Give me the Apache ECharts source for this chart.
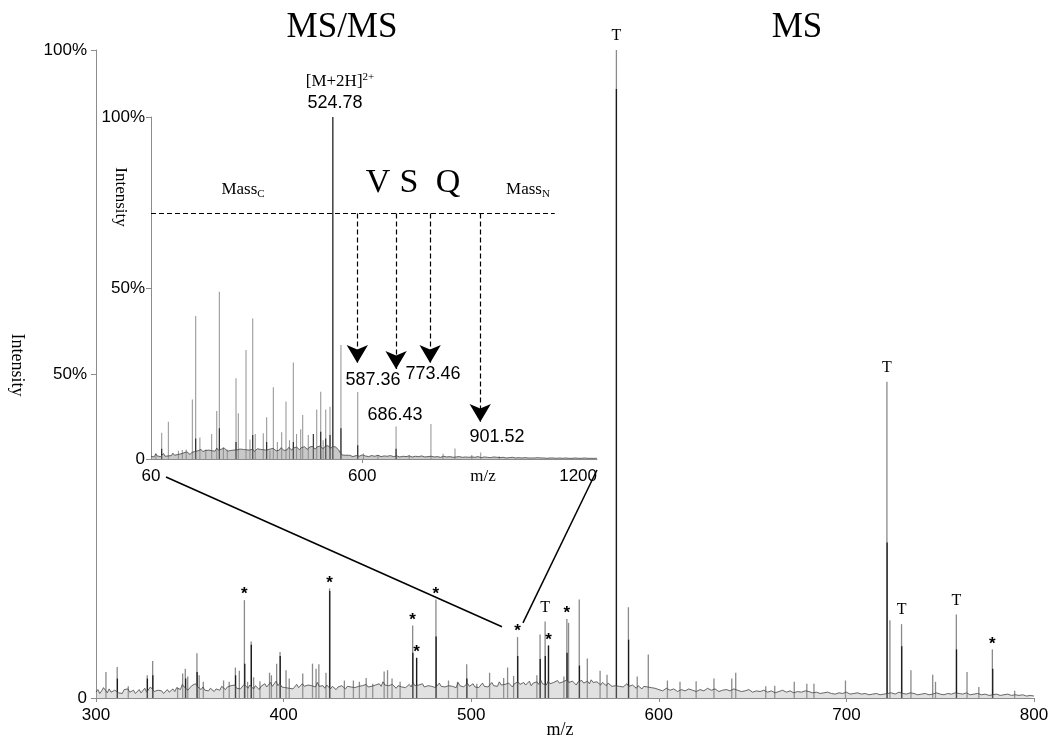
<!DOCTYPE html>
<html><head><meta charset="utf-8">
<script src="https://cdn.jsdelivr.net/npm/echarts@6/dist/echarts.min.js"></script>
<style>html,body{margin:0;padding:0;background:#fff}#c{width:1048px;height:738px}</style>
</head><body><div id="c"></div><script>
// ---------------- DATA ----------------
const mainXTicks = [300, 400, 500, 600, 700, 800];
const yTickText = {0: '0', 50: '50%', 100: '100%'};
const insetXLabels = [60, 600, 1200];
const insetXTicks = [600];

// MS spectrum: peaks [m/z, %] (gray trace)
const mainPeaks = [[305.3,4.0],[311.3,4.8],[317.2,1.8],[327.3,3.5],[330.2,5.7],[343.5,1.6],[346.2,3.8],[347.6,4.5],[348.9,3.3],[353.8,6.9],[355.0,3.5],[357.2,2.5],[368.0,2.7],[371.0,2.5],[374.3,4.7],[376.4,4.2],[379.1,15.1],[380.8,2.5],[382.7,8.7],[384.0,3.2],[387.4,2.6],[392.5,3.9],[393.5,3.5],[396.3,5.3],[398.1,7.1],[401.3,4.3],[403.0,3.0],[410.2,3.8],[415.4,5.3],[417.3,4.5],[418.8,5.2],[422.6,3.9],[424.5,16.9],[432.4,2.7],[437.2,2.7],[440.4,2.5],[444.0,3.1],[447.5,2.2],[453.6,4.1],[455.4,4.3],[457.8,3.0],[462.1,2.5],[468.8,11.2],[470.9,6.2],[481.2,15.2],[487.9,2.7],[492.7,2.5],[497.6,5.2],[503.0,2.2],[509.8,3.9],[517.3,3.1],[519.4,4.7],[522.6,3.4],[524.7,9.4],[535.0,3.5],[536.7,9.8],[539.4,11.8],[541.2,8.1],[549.4,3.3],[551.0,12.2],[551.9,11.6],[557.6,15.2],[561.9,6.1],[568.7,4.2],[572.4,3.6],[577.4,100],[583.8,14.0],[588.5,3.3],[594.4,6.7],[604.6,2.7],[611.3,2.5],[619.9,2.6],[629.4,3.0],[638.9,3.0],[641.0,3.9],[657.0,1.8],[661.8,1.9],[672.2,2.5],[678.9,2.2],[682.7,2.2],[699.5,2.7],[721.6,48.8],[723.2,12.0],[729.4,11.4],[734.4,4.3],[746.0,3.6],[747.5,2.5],[758.6,12.9],[764.3,4.0],[770.6,1.7],[777.8,7.5],[789.7,1.1]];
// MS spectrum: black trace
const mainPeaksDark = [[311.4,3.0],[327.4,3.0],[330.3,3.5],[347.8,3.0],[353.9,4.0],[374.4,3.5],[379.3,5.3],[382.8,8.2],[398.2,6.5],[424.6,16.5],[468.9,7.0],[470.9,6.2],[481.3,9.5],[497.7,3.0],[524.8,6.5],[536.8,6.0],[539.5,6.5],[541.2,8.1],[551.1,7.0],[557.7,5.0],[577.4,94],[583.9,9.0],[721.7,24.0],[729.5,8.0],[758.7,7.5],[778.0,4.5]];
const tPeaks = [577.4, 721.6, 729.4, 758.6, 539.4];
const starPeaks = [379.1, 424.5, 468.8, 470.9, 481.2, 524.7, 541.2, 551.0, 777.8];

// MS baseline noise, sampled every 1 m/z from 300 to 600
const mainNoiseStart = 300, mainNoiseStep = 1;
const mainNoise = [
0.9,1.3,0.7,1.1,1.6,1.2,0.8,1.4,0.9,1.0,1.2,1.5,0.8,1.1,0.7,1.3,1.0,1.4,0.9,0.8,
1.2,0.7,1.0,1.3,0.8,1.1,1.5,0.9,1.2,1.7,1.4,1.0,0.8,1.2,0.9,1.1,0.7,1.0,1.3,0.9,
1.1,1.4,1.0,1.6,1.8,1.3,2.1,1.7,1.5,1.2,1.4,1.9,1.6,2.2,1.8,1.5,1.3,1.7,1.2,1.4,
1.1,1.5,1.3,1.0,1.4,1.6,1.2,1.8,1.5,1.3,1.7,1.4,1.9,1.6,2.0,1.5,1.8,1.4,1.6,2.1,
1.8,1.5,2.0,1.7,1.4,1.9,1.6,1.3,1.8,1.5,2.2,1.7,2.0,2.4,1.8,2.1,2.6,1.9,2.3,1.7,
2.0,1.6,1.9,1.5,1.8,1.4,1.7,2.1,1.6,1.9,2.2,1.8,1.5,2.0,2.3,1.9,2.1,1.7,2.4,1.8,
1.6,1.9,1.5,2.0,1.7,1.4,1.8,1.6,1.3,1.7,1.5,1.9,1.6,1.4,1.8,1.5,1.7,2.0,1.6,1.4,
1.8,1.5,1.9,1.6,2.1,1.7,1.4,1.8,1.5,2.0,1.7,2.2,1.8,2.5,2.0,2.3,1.9,1.6,2.1,1.8,
1.5,1.9,2.2,1.7,2.0,1.6,1.8,2.1,1.7,2.4,1.9,1.6,2.0,1.8,2.2,1.7,1.5,1.9,2.1,1.8,
2.0,1.6,1.9,2.3,1.8,2.1,1.7,1.5,1.9,2.2,1.8,2.0,1.6,2.4,1.9,2.1,1.7,2.0,2.3,1.8,
1.9,2.2,1.7,2.0,1.6,1.9,2.3,1.8,2.1,1.7,2.0,2.4,1.9,2.2,1.8,2.5,2.0,1.7,2.1,1.9,
2.3,2.0,1.7,2.2,1.9,2.5,2.1,1.8,2.4,2.0,2.2,2.6,1.9,2.3,2.0,2.5,2.1,2.8,2.2,2.4,
2.0,2.6,2.2,1.9,2.4,2.1,2.7,2.3,2.0,2.5,2.2,2.8,2.4,2.1,2.6,2.3,2.0,2.5,2.2,2.7,
2.3,2.0,2.6,2.2,2.8,2.4,2.1,2.5,2.3,2.0,2.4,2.2,1.9,2.3,2.0,1.8,2.1,1.9,1.6,1.8,
2.0,1.7,1.9,2.2,1.8,1.6,2.0,1.7,1.5,1.9,1.6,1.4,1.8,1.5,1.7,1.4,1.6,1.3,1.5,1.2];
// MS baseline noise, sampled every 2 m/z from 600 to 800
const mainNoise2Start = 600, mainNoise2Step = 2;
const mainNoise2 = [
1.3,1.1,1.5,1.2,1.4,1.0,1.3,1.1,1.4,1.2,1.0,1.3,1.1,1.5,1.2,1.4,1.0,1.2,1.3,1.1,
1.4,1.2,1.0,1.1,1.3,0.9,1.1,1.0,1.2,0.9,1.1,0.8,1.0,1.2,0.9,1.1,0.8,1.0,0.9,1.1,
1.0,0.8,0.9,0.7,0.8,0.9,0.7,0.6,0.8,0.7,0.9,0.6,0.7,0.8,0.6,0.7,0.5,0.6,0.7,0.5,
0.6,0.7,0.8,0.6,0.9,0.7,0.6,0.8,0.7,0.5,0.6,0.7,0.5,0.6,0.8,0.6,0.5,0.7,0.6,0.8,
0.7,0.6,0.8,0.5,0.6,0.7,0.5,0.6,0.4,0.5,0.6,0.4,0.5,0.6,0.4,0.5,0.4,0.5,0.3,0.4,0.3];

// MS/MS inset: peaks [m/z, %]
const insetPeaks = [[72.8,1.7],[87.3,7.7],[104.4,10.9],[130,2.4],[140,2.6],[150,2.8],[165.7,17.4],[174.2,41.8],[185,6.3],[200,2.8],[215,7.3],[228,14.0],[234.7,48.9],[245,3.5],[255,2.8],[277.3,23.6],[283.2,13.4],[302.9,31.9],[313,5.7],[320,41.1],[326.4,7.3],[347,7.5],[355.6,12.2],[364,2.5],[372.7,21.0],[383,5.0],[394,7.8],[405,16.8],[414,5.5],[423.8,28.2],[432,7.3],[442.6,8.7],[447.7,12.9],[462,7.0],[483.6,14.5],[493.8,19.7],[500,5.5],[506.6,14.5],[517.6,15.3],[524.78,100],[545.5,33.3],[588.4,19.6],[603,1.6],[640,1.2],[686.4,9.5],[720,1.2],[775.5,10.2],[806.4,1.5],[837,3.1],[880,1.2],[902.8,1.9],[950,0.8]];
const insetPeaksDark = [[87.3,3.0],[174.2,6.0],[234.7,9.0],[277.3,5.0],[320,7.0],[355.6,5.0],[423.8,5.0],[474.9,7.3],[493.8,8.0],[506.6,6.0],[517.6,7.0],[524.78,100],[545.5,9.0],[588.4,4.0],[686.4,3.0]];
// inset noise, every 4 m/z from 60 to 560, then every 8 m/z from 560 to 1200
const insetNoiseStart = 60, insetNoiseStep = 4;
const insetNoise = [
0.8,1.2,0.6,1.5,0.9,1.3,0.7,1.1,1.6,0.8,1.2,0.9,1.4,1.0,1.7,1.1,0.8,1.3,1.0,1.5,
1.2,1.8,1.4,2.1,1.6,1.3,1.9,1.5,2.2,1.7,2.4,1.9,2.8,2.2,1.8,2.5,2.0,2.6,2.1,2.4,
2.8,2.3,3.2,2.6,2.2,2.9,2.4,3.1,2.7,2.3,2.8,2.5,3.0,2.6,2.2,2.7,2.4,2.9,2.5,2.8,
2.3,2.7,3.1,2.6,2.4,2.9,2.2,2.6,3.0,2.5,2.8,2.3,2.7,3.2,2.6,2.4,2.9,2.5,3.1,2.7,
2.4,2.9,2.6,3.3,2.8,2.5,3.0,2.7,3.4,2.9,2.6,3.2,2.8,3.5,3.0,2.7,3.3,2.9,3.6,3.1,
2.8,3.4,3.0,3.7,3.2,2.9,3.5,3.1,3.8,3.3,3.0,3.6,3.2,3.9,3.4,3.1,3.7,3.3,3.5,3.2,
2.6,1.8,1.2,0.9,1.1];
const insetNoise2Start = 560, insetNoise2Step = 8;
const insetNoise2 = [
0.9,1.1,0.7,1.0,0.8,1.2,0.9,0.7,1.0,0.8,1.1,0.7,0.9,0.8,1.0,0.7,0.9,0.6,0.8,0.7,
0.9,0.6,0.8,0.7,0.9,0.6,0.7,0.8,0.6,0.7,0.5,0.8,0.6,0.7,0.5,0.6,0.7,0.5,0.6,0.5,
0.6,0.5,0.7,0.4,0.6,0.5,0.4,0.6,0.5,0.4,0.5,0.3,0.4,0.5,0.3,0.4,0.3,0.4,0.3,0.3,
0.3,0.4,0.3,0.3,0.2,0.3,0.3,0.2,0.3,0.2,0.3,0.2,0.2,0.3,0.2,0.2,0.3,0.2,0.2,0.2,0.2];

const fragmentIons = ['587.36', '686.43', '773.46', '901.52'];
const arrowTipLevel = [28.1, 26.3, 28.1, 10.8];
const massLineLevel = 71.8;
const massLineRange = [60, 1092];
const zoomTargets = [[516.4, 11.0], [527.6, 11.6]];

// ---------------- CHART ----------------
const SANS = '"Liberation Sans", Arial, sans-serif';
const SERIF = '"Liberation Serif", "Times New Roman", serif';
const AX = '#8c8c8c';

function sampled(start, step, levels) {
  return levels.map((h, i) => [Math.round((start + i * step) * 100) / 100, h]);
}
function heightAt(list, mz) {
  let best = list[0];
  list.forEach(p => { if (Math.abs(p[0] - mz) < Math.abs(best[0] - mz)) best = p; });
  return best[1];
}

const chart = echarts.init(document.getElementById('c'), null, {renderer: 'canvas'});

const axisCommon = {
  splitLine: {show: false},
  axisLine: {show: true, onZero: false, lineStyle: {color: AX, width: 1}},
  axisTick: {show: true, length: 5, lineStyle: {color: AX}},
};

const peakMarks = tPeaks.map(mz => ({
  name: 'T', coord: [mz, heightAt(mainPeaks, mz)],
  label: {fontFamily: SERIF, fontSize: 16, distance: 6}
})).concat(starPeaks.map(mz => ({
  name: '*', coord: [mz, heightAt(mainPeaks, mz)],
  label: {fontFamily: SANS, fontSize: 17, fontWeight: 'bold', distance: -3}
})));

const arrowLines = fragmentIons.map((ion, i) => [
  {coord: [parseFloat(ion), massLineLevel], symbol: 'none'},
  {coord: [parseFloat(ion), arrowTipLevel[i]], symbol: 'arrow'}
]);
arrowLines.push([
  {coord: [massLineRange[0], massLineLevel], symbol: 'none'},
  {coord: [massLineRange[1], massLineLevel], symbol: 'none'}
]);

const option = {
  animation: false,
  backgroundColor: '#fff',
  grid: [
    {left: 96, top: 50, width: 938, height: 648, outerBoundsMode: 'none', containLabel: false},
    {left: 151, top: 117, width: 446, height: 342, outerBoundsMode: 'none', containLabel: false}
  ],
  xAxis: [
    Object.assign({}, axisCommon, {
      type: 'value', gridIndex: 0, min: 300, max: 800, interval: 100,
      axisLabel: {color: '#000', fontFamily: SANS, fontSize: 17, margin: 9, customValues: mainXTicks, formatter: v => String(v)},
      axisTick: {show: true, length: 4, lineStyle: {color: AX}, customValues: mainXTicks}
    }),
    Object.assign({}, axisCommon, {
      type: 'value', gridIndex: 1, min: 60, max: 1200, interval: 60,
      axisLabel: {color: '#000', fontFamily: SANS, fontSize: 17, margin: 9, customValues: insetXLabels, alignMaxLabel: 'right', formatter: v => String(v)},
      axisTick: {show: true, length: 4, lineStyle: {color: AX}, customValues: insetXTicks}
    })
  ],
  yAxis: [
    Object.assign({}, axisCommon, {
      type: 'value', gridIndex: 0, min: 0, max: 100, interval: 50,
      axisLabel: {color: '#000', fontFamily: SANS, fontSize: 17, margin: 9, formatter: v => yTickText[v]}
    }),
    Object.assign({}, axisCommon, {
      type: 'value', gridIndex: 1, min: 0, max: 100, interval: 50,
      axisLabel: {color: '#000', fontFamily: SANS, fontSize: 17, margin: 6, formatter: v => yTickText[v]}
    })
  ],
  series: [
    {
      name: 'MS noise', type: 'line', xAxisIndex: 0, yAxisIndex: 0, symbol: 'none', silent: true,
      data: sampled(mainNoiseStart, mainNoiseStep, mainNoise).concat(sampled(mainNoise2Start, mainNoise2Step, mainNoise2).slice(1)),
      lineStyle: {color: '#444', width: 0.8},
      areaStyle: {color: '#aaa', opacity: 0.35}
    },
    {
      name: 'MS gray', type: 'bar', xAxisIndex: 0, yAxisIndex: 0, barWidth: 1.3, barGap: '-100%', silent: true,
      data: mainPeaks, itemStyle: {color: '#8a8a8a'},
      markPoint: {
        symbol: 'circle', symbolSize: 0, silent: true,
        label: {show: true, position: 'top', formatter: '{b}', color: '#000'},
        data: peakMarks
      }
    },
    {
      name: 'MS black', type: 'bar', xAxisIndex: 0, yAxisIndex: 0, barWidth: 1.3, barGap: '-100%', silent: true,
      data: mainPeaksDark, itemStyle: {color: '#1a1a1a'}
    },
    {
      name: 'MSMS noise', type: 'line', xAxisIndex: 1, yAxisIndex: 1, symbol: 'none', silent: true,
      data: sampled(insetNoiseStart, insetNoiseStep, insetNoise).concat(sampled(insetNoise2Start, insetNoise2Step, insetNoise2)),
      lineStyle: {color: '#444', width: 0.8},
      areaStyle: {color: '#888', opacity: 0.45}
    },
    {
      name: 'MSMS gray', type: 'bar', xAxisIndex: 1, yAxisIndex: 1, barWidth: 1.1, barGap: '-100%', silent: true,
      data: insetPeaks, itemStyle: {color: '#9a9a9a'}
    },
    {
      name: 'MSMS black', type: 'bar', xAxisIndex: 1, yAxisIndex: 1, barWidth: 1.1, barGap: '-100%', silent: true,
      data: insetPeaksDark,
      itemStyle: {color: '#222'},
      markLine: {
        silent: true, symbol: ['none', 'arrow'], symbolSize: [16, 18],
        label: {show: false},
        lineStyle: {color: '#000', type: [5, 3], width: 1.2},
        data: arrowLines
      }
    }
  ]
};
chart.setOption(option);

const insetOrigin = chart.convertToPixel({gridIndex: 1}, [60, 0]);
const insetEnd = chart.convertToPixel({gridIndex: 1}, [1200, 0]);
const t1 = chart.convertToPixel({gridIndex: 0}, zoomTargets[0]);
const t2 = chart.convertToPixel({gridIndex: 0}, zoomTargets[1]);

function txt(x, y, text, font, extra) {
  return Object.assign({type: 'text', x: x, y: y, silent: true,
    style: {text: text, font: font, fill: '#000', align: 'center', verticalAlign: 'middle'}}, extra || {});
}
const graphics = [
  txt(342, 28, 'MS/MS', '35px ' + SERIF),
  txt(797, 28, 'MS', '35px ' + SERIF),
  {type: 'text', x: 340, y: 82, silent: true, style: {
    text: '[M+2H]{sup|2+}', font: '17px ' + SERIF, fill: '#000', align: 'center', verticalAlign: 'middle',
    rich: {sup: {fontSize: 11, fontFamily: SERIF, padding: [0, 0, 9, 0]}}}},
  txt(335, 103, '524.78', '18px ' + SANS),
  txt(378, 183, 'V', '34px ' + SERIF),
  txt(409, 183, 'S', '34px ' + SERIF),
  txt(448, 183, 'Q', '34px ' + SERIF),
  {type: 'text', x: 243, y: 190, silent: true, style: {
    text: 'Mass{sub|C}', font: '17px ' + SERIF, fill: '#000', align: 'center', verticalAlign: 'middle',
    rich: {sub: {fontSize: 11, fontFamily: SERIF, padding: [8, 0, 0, 0]}}}},
  {type: 'text', x: 528, y: 190, silent: true, style: {
    text: 'Mass{sub|N}', font: '17px ' + SERIF, fill: '#000', align: 'center', verticalAlign: 'middle',
    rich: {sub: {fontSize: 11, fontFamily: SERIF, padding: [8, 0, 0, 0]}}}},
  txt(373, 380, fragmentIons[0], '18px ' + SANS),
  txt(395, 415, fragmentIons[1], '18px ' + SANS),
  txt(433, 374, fragmentIons[2], '18px ' + SANS),
  txt(497, 437, fragmentIons[3], '18px ' + SANS),
  txt(120, 197, 'Intensity', '17px ' + SERIF, {rotation: -Math.PI / 2}),
  txt(483, 477, 'm/z', '17px ' + SERIF),
  txt(17, 365, 'Intensity', '18px ' + SERIF, {rotation: -Math.PI / 2}),
  txt(560, 730, 'm/z', '18px ' + SERIF),
  {type: 'line', silent: true, shape: {x1: insetOrigin[0] + 15, y1: insetOrigin[1] + 18, x2: t1[0], y2: t1[1]},
    style: {stroke: '#000', lineWidth: 1.5}},
  {type: 'line', silent: true, shape: {x1: insetEnd[0], y1: insetEnd[1] + 11, x2: t2[0], y2: t2[1]},
    style: {stroke: '#000', lineWidth: 1.5}}
];
chart.setOption({graphic: graphics});
</script></body></html>
